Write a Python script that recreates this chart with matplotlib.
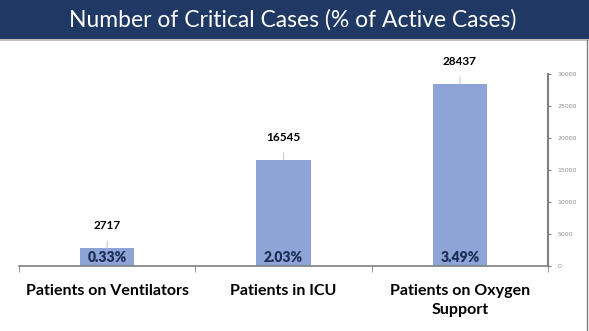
import matplotlib
matplotlib.use("Agg")
import matplotlib.pyplot as plt
from matplotlib.patches import Rectangle

# critical case counts and share of active cases
categories = ["Patients on Ventilators", "Patients in ICU", "Patients on Oxygen\nSupport"]
counts = [2717, 16545, 28437]
pct_labels = ["0.33%", "2.03%", "3.49%"]
y_ticks = [0, 5000, 10000, 15000, 20000, 25000, 30000]

title = "Number of Critical Cases (% of Active Cases)"
navy = "#1f3864"
bar_col = "#8fa4d6"

fig = plt.figure(figsize=(5.89, 3.31), dpi=100)

# header band
fig.patches.append(Rectangle((0, 1 - 39 / 331), 1, 39 / 331, transform=fig.transFigure,
                             facecolor=navy, edgecolor="none", zorder=0))
fig.add_artist(plt.Line2D([0, 1], [1 - 40 / 331] * 2, color="#b9aeb0", lw=1.2,
                          transform=fig.transFigure))
fig.text(0.497, 1 - 20 / 331, title, color="white", fontsize=16.5, family="Lato",
         ha="center", va="center")

ax = fig.add_axes([19 / 589, 1 - 265.5 / 331, (548 - 19) / 589, (265.5 - 74) / 331])
x = list(range(len(categories)))
ax.bar(x, counts, width=0.31, color=bar_col, zorder=2)

ax.set_xlim(-0.5, 2.5)
ax.set_ylim(0, 30000)

for xi, c, p in zip(x, counts, pct_labels):
    ax.annotate(str(c), xy=(xi, c), xytext=(xi, c + 3500), ha="center", va="center",
                fontsize=8.5, fontweight="bold", family="Lato",
                arrowprops=dict(arrowstyle="-", color="#c8c8c8", lw=0.8, shrinkA=5, shrinkB=0))
    ax.text(xi, 1300, p, ha="center", va="center", fontsize=10, fontweight="heavy",
            family="Lato", color="#1b2d55", zorder=3)

# spines
for s in ["top", "left"]:
    ax.spines[s].set_visible(False)
ax.spines["bottom"].set_color("#7f7f7f")
ax.spines["right"].set_color("#7f7f7f")
ax.spines["bottom"].set_linewidth(1.2)
ax.spines["right"].set_linewidth(1.5)

ax.yaxis.tick_right()
ax.set_yticks(y_ticks)
ax.set_yticklabels([str(v) for v in y_ticks])
ax.tick_params(axis="y", length=2, color="#7f7f7f", labelsize=4.5, labelcolor="#909090", pad=5)

ax.set_xticks(x)
ax.set_xticklabels(categories, fontsize=11.5, fontweight="bold", family="Lato", va="top",
                   linespacing=1.45)
ax.tick_params(axis="x", length=0, pad=13)
ax.set_xticks([-0.5, 0.5, 1.5, 2.5], minor=True)
ax.tick_params(axis="x", which="minor", length=4, color="#7f7f7f", direction="out")

# right border line of the slide
fig.add_artist(plt.Line2D([587 / 589] * 2, [0, 1 - 40 / 331], color="#7f7f7f", lw=1,
                          transform=fig.transFigure))

fig.savefig("out.png", dpi=100, facecolor="white")
